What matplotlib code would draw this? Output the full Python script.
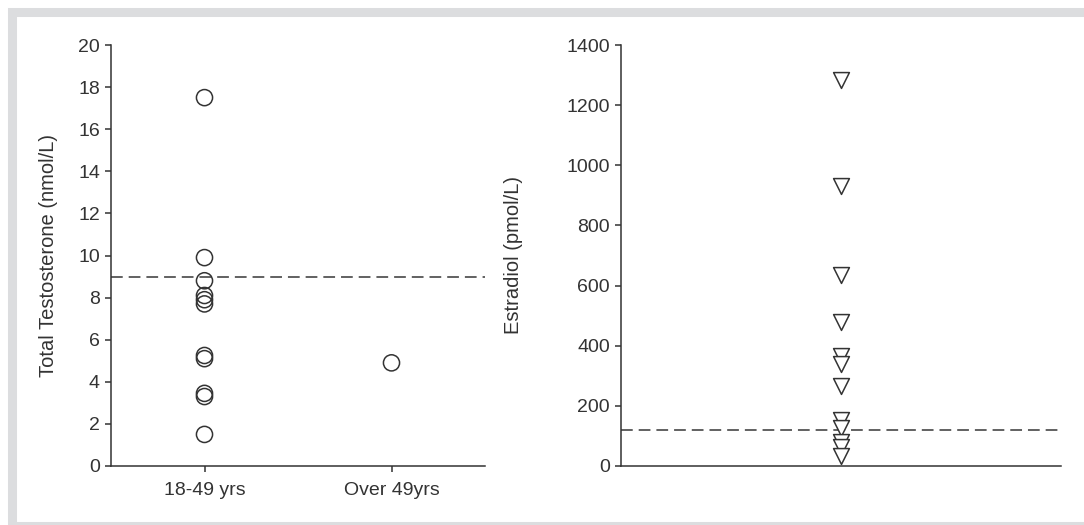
import numpy as np
import matplotlib
matplotlib.use("Agg")
from matplotlib import pyplot as plt
from matplotlib.patches import Rectangle

plt.rcParams['font.family'] = ['Liberation Sans', 'DejaVu Sans']

# left panel data
groups = ["18-49 yrs", "Over 49yrs"]
young_T = [17.5, 9.9, 8.8, 8.1, 7.9, 7.7, 5.25, 5.1, 3.45, 3.3, 1.5]
old_T = [4.9]
T_cutoff = 9.0

# right panel data
estradiol = [1283, 932, 635, 478, 365, 340, 265, 154, 127, 80, 62, 32]
E_cutoff = 120

ink = "#333333"
dash_col = "#555555"

fig = plt.figure(figsize=(10.84, 5.25), dpi=100)
fig.patch.set_facecolor("white")

# gray frame around the figure
W, H = 1084, 525
frame = Rectangle((11.5 / W, -0.5 / H), (1085.5 - 11.5) / W, (513.5 + 0.5) / H,
                  transform=fig.transFigure, fill=False, edgecolor="#dcdddf",
                  linewidth=6.5, zorder=0)
fig.patches.append(frame)

ax1 = fig.add_axes([111 / W, 59 / H, 374 / W, 421 / H])
ax2 = fig.add_axes([621 / W, 59 / H, 440 / W, 421 / H])

for ax in (ax1, ax2):
    ax.spines["top"].set_visible(False)
    ax.spines["right"].set_visible(False)
    ax.spines["left"].set_color(ink)
    ax.spines["bottom"].set_color(ink)
    ax.spines["left"].set_linewidth(1.1)
    ax.spines["bottom"].set_linewidth(1.1)
    ax.tick_params(colors=ink, labelcolor=ink, labelsize=14, width=1.1,
                   length=4.5, direction="out")

# plot 1 - testosterone
ax1.scatter(np.zeros(len(young_T)), young_T, s=135, marker="o",
            facecolors="none", edgecolors=ink, linewidths=1.1, zorder=3)
ax1.scatter(np.ones(len(old_T)), old_T, s=135, marker="o",
            facecolors="none", edgecolors=ink, linewidths=1.1, zorder=3)
ax1.axhline(T_cutoff, color=dash_col, linewidth=1.3, dashes=(6.5, 3.3), zorder=2)
ax1.set_xlim(-0.5, 1.5)
ax1.set_ylim(0, 20)
ax1.set_yticks(np.arange(0, 21, 2))
ax1.set_xticks([0, 1])
ax1.set_xticklabels(groups)
ax1.tick_params(axis="x", pad=7)
ax1.set_ylabel("Total Testosterone (nmol/L)", fontsize=14.5, color=ink)
ax1.yaxis.set_label_coords(-0.143, 0.5)

# plot 2 - estradiol
ax2.scatter(np.zeros(len(estradiol)), estradiol, s=130, marker="v",
            facecolors="white", edgecolors=ink, linewidths=1.1, zorder=3)
ax2.axhline(E_cutoff, color=dash_col, linewidth=1.3, dashes=(6.5, 3.3), zorder=2)
ax2.set_xlim(-1, 1)
ax2.set_ylim(0, 1400)
ax2.set_yticks(np.arange(0, 1401, 200))
ax2.set_xticks([])
ax2.set_ylabel("Estradiol (pmol/L)", fontsize=14.5, color=ink)
ax2.yaxis.set_label_coords(-0.222, 0.5)

plt.savefig("out.png", dpi=100)
